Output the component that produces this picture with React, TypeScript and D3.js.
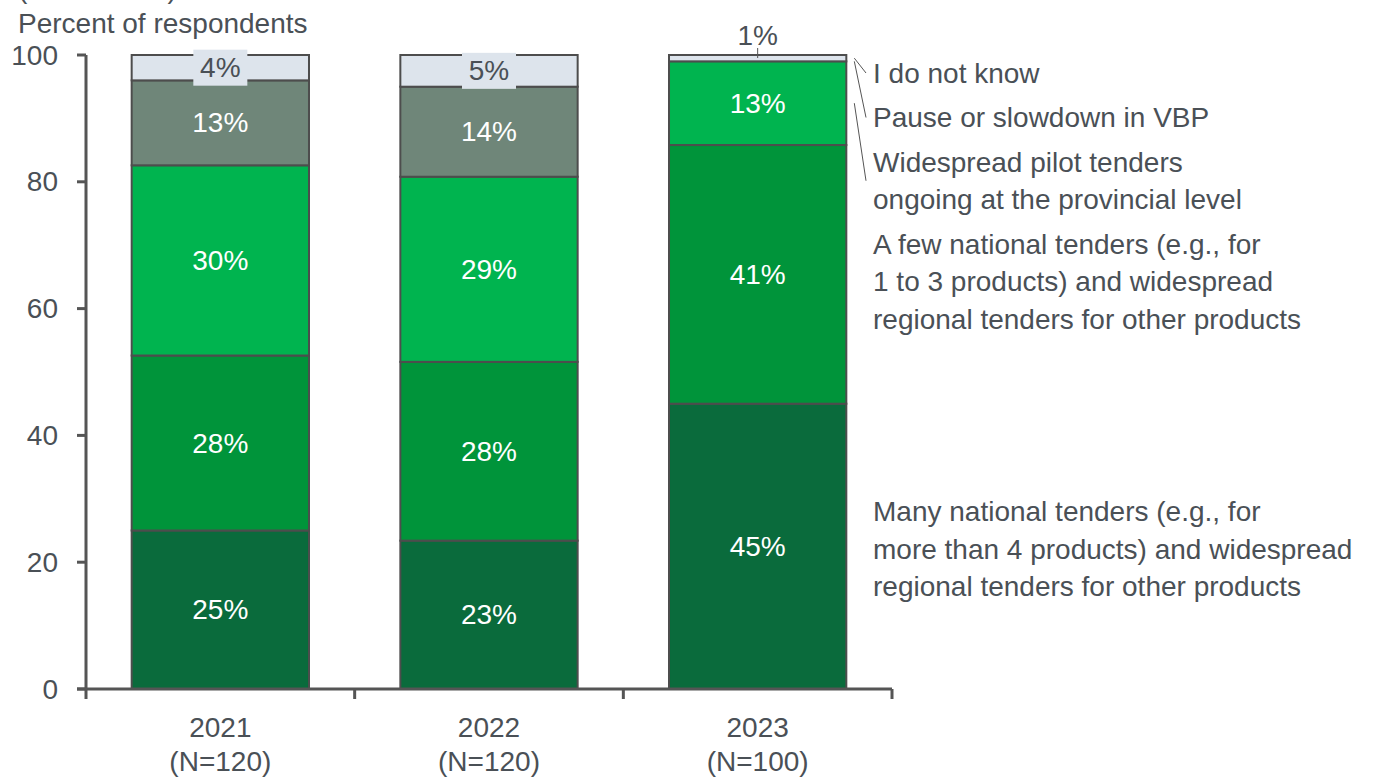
import * as d3 from 'd3';

const years = ['2021', '2022', '2023'];
const sampleSizes = ['(N=120)', '(N=120)', '(N=100)'];
const manyNational = [25.0, 23.4, 45.0];
const fewNational = [27.6, 28.2, 40.8];
const pilotTenders = [30.0, 29.2, 13.2];
const pauseSlowdown = [13.4, 14.2, 0];
const doNotKnow = [4.0, 5.0, 1.0];
const yTicks = [0, 20, 40, 60, 80, 100];

const seriesKeys = ['many', 'few', 'pilot', 'pause', 'unknown'];
const seriesColors = ['#0a6b3c', '#00943a', '#00b44f', '#6f8679', '#dde4ec'];
const seriesLabels = [
  ['Many national tenders (e.g., for', 'more than 4 products) and widespread', 'regional tenders for other products'],
  ['A few national tenders (e.g., for', '1 to 3 products) and widespread', 'regional tenders for other products'],
  ['Widespread pilot tenders', 'ongoing at the provincial level'],
  ['Pause or slowdown in VBP'],
  ['I do not know'],
];

const FONT = "'Liberation Sans', Arial, sans-serif";
const TEXT = '#4a5056';
const AXIS = '#555555';

export default function App() {
  const width = 1375;
  const height = 777;
  const left = 86;
  const right = 892;
  const top = 55;
  const bottom = 689;

  const rows = years.map((year, i) => ({
    year,
    many: manyNational[i],
    few: fewNational[i],
    pilot: pilotTenders[i],
    pause: pauseSlowdown[i],
    unknown: doNotKnow[i],
  }));
  const stacked = d3.stack<any>().keys(seriesKeys)(rows);

  const x = d3.scaleBand().domain(years).range([left, right]).paddingInner(0.34).paddingOuter(0.17);
  const y = d3.scaleLinear().domain([0, 100]).range([bottom, top]);
  const color = d3.scaleOrdinal<string, string>().domain(seriesKeys).range(seriesColors);

  // legend layout, labels attached to the last bar
  const lineH = 37.5;
  const last = years.length - 1;
  const lastBarRight = (x(years[last]) ?? 0) + x.bandwidth();
  const textX = 873;
  const legend: { key: string; lines: string[]; firstCenter: number; blockCenter: number; segMid: number }[] = [];
  let cursor = 73;
  for (let k = seriesKeys.length - 1; k >= 1; k--) {
    const lines = seriesLabels[k];
    const seg = stacked[k][last];
    legend.push({
      key: seriesKeys[k],
      lines,
      firstCenter: cursor,
      blockCenter: cursor + ((lines.length - 1) * lineH) / 2,
      segMid: y((seg[0] + seg[1]) / 2),
    });
    cursor += lines.length * lineH + 7;
  }
  const manySeg = stacked[0][last];
  const manyLines = seriesLabels[0];
  const manyCenter = y((manySeg[0] + manySeg[1]) / 2) + 3;
  legend.push({
    key: 'many',
    lines: manyLines,
    firstCenter: manyCenter - ((manyLines.length - 1) * lineH) / 2,
    blockCenter: manyCenter,
    segMid: y((manySeg[0] + manySeg[1]) / 2),
  });
  const withLeader = ['unknown', 'pause', 'pilot'];

  const bandEdges = [...years.map((yr) => (x(yr) ?? 0) - (x.step() * x.paddingInner()) / 2), right];
  bandEdges[0] = left;

  return (
    <svg width={width} height={height} style={{ position: 'absolute', left: 0, top: 0 }} fontFamily={FONT}>
      <rect width={width} height={height} fill="#ffffff" />
      <text x={18} y={-2} fontSize={28} fill={TEXT}>(2021–2023)</text>
      <text x={18} y={33} fontSize={28} fill={TEXT}>Percent of respondents</text>

      {stacked.map((layer) =>
        layer.map((d, i) => (
          <rect
            key={`${layer.key}-${i}`}
            x={x(years[i])}
            y={y(d[1])}
            width={x.bandwidth()}
            height={y(d[0]) - y(d[1])}
            fill={color(layer.key)}
            stroke="#4d4d4d"
            strokeWidth={2}
          />
        ))
      )}

      {stacked.map((layer) =>
        layer.map((d, i) => {
          const v = d[1] - d[0];
          if (v <= 0) return null;
          const cx = (x(years[i]) ?? 0) + x.bandwidth() / 2;
          const cy = y((d[0] + d[1]) / 2);
          const label = `${Math.round(v)}%`;
          if (layer.key === 'unknown') {
            if (v < 2) {
              return (
                <g key={`lbl-${layer.key}-${i}`}>
                  <line x1={cx} x2={cx} y1={y(d[1]) - 7} y2={y(d[1]) + 3} stroke={AXIS} strokeWidth={1} />
                  <text x={cx} y={y(d[1]) - 20} fontSize={28} fill={TEXT} textAnchor="middle" dominantBaseline="central">{label}</text>
                </g>
              );
            }
            return (
              <g key={`lbl-${layer.key}-${i}`}>
                <rect x={cx - 27} y={cy - 18} width={54} height={36} fill={color(layer.key)} />
                <text x={cx} y={cy} fontSize={28} fill={TEXT} textAnchor="middle" dominantBaseline="central">{label}</text>
              </g>
            );
          }
          return (
            <text key={`lbl-${layer.key}-${i}`} x={cx} y={cy} fontSize={28} fill="#ffffff" textAnchor="middle" dominantBaseline="central">
              {label}
            </text>
          );
        })
      )}

      {/* y axis */}
      <line x1={left} x2={left} y1={y(0)} y2={y(100)} stroke={AXIS} strokeWidth={3} />
      {yTicks.map((t) => (
        <g key={t}>
          <line x1={left - 9} x2={left} y1={y(t)} y2={y(t)} stroke={AXIS} strokeWidth={3} />
          <text x={58} y={y(t)} fontSize={28} fill={TEXT} textAnchor="end" dominantBaseline="central">{t}</text>
        </g>
      ))}

      {/* x axis */}
      <line x1={left - 9} x2={right} y1={y(0)} y2={y(0)} stroke={AXIS} strokeWidth={3} />
      {bandEdges.map((bx, i) => (
        <line key={i} x1={bx} x2={bx} y1={y(0)} y2={y(0) + 10} stroke={AXIS} strokeWidth={3} />
      ))}
      {years.map((yr, i) => {
        const cx = (x(yr) ?? 0) + x.bandwidth() / 2;
        return (
          <g key={yr}>
            <text x={cx} y={737} fontSize={28} fill={TEXT} textAnchor="middle">{yr}</text>
            <text x={cx} y={771} fontSize={28} fill={TEXT} textAnchor="middle">{sampleSizes[i]}</text>
          </g>
        );
      })}

      {/* legend */}
      {legend.map((l) => (
        <g key={l.key}>
          {withLeader.includes(l.key) && (
            <line x1={lastBarRight + 8} y1={l.segMid} x2={textX - 7} y2={l.blockCenter} stroke={AXIS} strokeWidth={1} />
          )}
          {l.lines.map((line, j) => (
            <text key={j} x={textX} y={l.firstCenter + j * lineH} fontSize={28} fill={TEXT} dominantBaseline="central">
              {line}
            </text>
          ))}
        </g>
      ))}
    </svg>
  );
}
